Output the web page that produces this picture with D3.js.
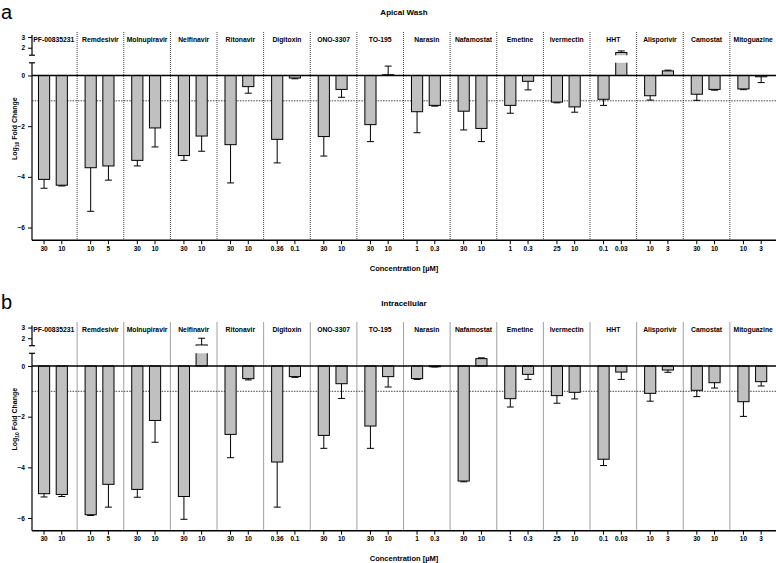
<!DOCTYPE html>
<html>
<head>
<meta charset="utf-8">
<script src="https://cdn.jsdelivr.net/npm/d3@7"></script>
<style>
body { margin: 0; background: #fff; }
text { font-family: "Liberation Sans", Arial, sans-serif; }
</style>
</head>
<body>
<svg id="chart" width="776" height="563"></svg>
<script>
// drug groups and the two concentrations (uM) tested for each
const drugs = ["PF-00835231", "Remdesivir", "Molnupiravir", "Nelfinavir", "Ritonavir", "Digitoxin",
    "ONO-3307", "TO-195", "Narasin", "Nafamostat", "Emetine", "Ivermectin", "HHT", "Alisporivir",
    "Camostat", "Mitoguazine"];
const concHigh = ["30", "10", "30", "30", "30", "0.36", "30", "30", "1", "30", "1", "25", "0.1", "10", "30", "10"];
const concLow = ["10", "5", "10", "10", "10", "0.1", "10", "10", "0.3", "10", "0.3", "10", "0.03", "3", "10", "3"];

// log10 fold change, apical wash
const apicalHigh = [-4.10, -3.64, -3.35, -3.16, -2.73, -2.52, -2.41, -1.94, -1.43, -1.41, -1.18, -1.05, -0.94, -0.80, -0.74, -0.53];
const apicalHighSd = [0.35, 1.72, 0.22, 0.19, 1.51, 0.93, 0.77, 0.67, 0.83, 0.74, 0.31, 0.03, 0.24, 0.17, 0.24, 0.03];
const apicalLow = [-4.33, -3.57, -2.07, -2.39, -0.44, -0.10, -0.55, 0.03, -1.18, -2.09, -0.23, -1.24, 1.55, 0.18, -0.55, -0.05];
const apicalLowSd = [0.03, 0.56, 0.75, 0.60, 0.26, 0.03, 0.31, 0.34, 0.03, 0.52, 0.34, 0.21, 0.15, 0.03, 0.03, 0.23];

// log10 fold change, intracellular
const intraHigh = [-5.04, -5.87, -4.87, -5.15, -2.70, -3.79, -2.74, -2.37, -0.50, -4.54, -1.29, -1.17, -3.68, -1.08, -0.96, -1.41];
const intraHighSd = [0.13, 0.03, 0.31, 0.90, 0.92, 1.78, 0.51, 0.88, 0.03, 0.03, 0.33, 0.30, 0.25, 0.31, 0.25, 0.58];
const intraLow = [-5.07, -4.67, -2.15, 1.37, -0.50, -0.42, -0.70, -0.42, -0.03, 0.29, -0.33, -1.04, -0.24, -0.16, -0.66, -0.62];
const intraLowSd = [0.08, 0.90, 0.86, 0.63, 0.05, 0.03, 0.58, 0.41, 0.01, 0.03, 0.20, 0.26, 0.29, 0.09, 0.21, 0.17];

const lowerTicks = [0, -2, -4, -6];
const upperTicks = [2, 3];

const svg = d3.select("#chart");

const x = d3.scaleBand().domain(drugs).range([30.5, 776.5]).padding(0);
const xi = d3.scaleBand().domain([0, 1]).range([0, x.bandwidth()])
    .paddingInner(0.37).paddingOuter(0.5).align(0.45);

function drawPanel(oy, letter, title, high, highSd, low, lowSd, id) {
    const g = svg.append("g").attr("transform", "translate(0," + oy + ")");
    const axisX = 32;

    // broken y axis: lower segment and small upper segment
    const yLow = d3.scaleLinear().domain([-6.5, 0.5]).range([240.2, 62.8]);
    const yUp = d3.scaleLinear().domain([1.3, 3.2]).range([55.2, 34.9]);

    g.append("text").attr("x", 1).attr("y", 18.5).attr("font-size", 20).text(letter);
    g.append("text").attr("x", 404).attr("y", 15).attr("text-anchor", "middle")
        .attr("font-size", 8).attr("font-weight", "bold").text(title);

    // clip regions for each segment
    const defs = svg.append("defs");
    defs.append("clipPath").attr("id", "low" + id).append("rect")
        .attr("x", 0).attr("y", yLow(0.5)).attr("width", 776).attr("height", yLow(-6.5) - yLow(0.5));
    defs.append("clipPath").attr("id", "up" + id).append("rect")
        .attr("x", 0).attr("y", yUp(3.2)).attr("width", 776).attr("height", yUp(1.3) - yUp(3.2));

    // dotted group dividers
    g.selectAll(".div").data(drugs.slice(1)).enter().append("line")
        .attr("x1", d => x(d)).attr("x2", d => x(d))
        .attr("y1", 32).attr("y2", yLow(-6.5))
        .attr("stroke", "#444").attr("stroke-width", 1).attr("stroke-dasharray", "1,1");

    // group names
    g.selectAll(".name").data(drugs).enter().append("text")
        .attr("x", d => x(d) + x.bandwidth() / 2).attr("y", 41.5)
        .attr("text-anchor", "middle").attr("font-size", 6.8).attr("font-weight", "bold")
        .text(d => d);

    // reference line at -1
    g.append("line").attr("x1", axisX).attr("x2", 776).attr("y1", yLow(-1)).attr("y2", yLow(-1))
        .attr("stroke", "#333").attr("stroke-width", 0.9).attr("stroke-dasharray", "1.5,1.2");

    const bars = [];
    drugs.forEach((d, i) => {
        bars.push({ drug: d, k: 0, v: high[i], sd: highSd[i], conc: concHigh[i] });
        bars.push({ drug: d, k: 1, v: low[i], sd: lowSd[i], conc: concLow[i] });
    });
    const bx = b => x(b.drug) + xi(b.k);
    const bw = xi.bandwidth();

    // bars, lower segment
    g.append("g").attr("clip-path", "url(#low" + id + ")")
        .selectAll("rect").data(bars).enter().append("rect")
        .attr("x", bx).attr("width", bw)
        .attr("y", b => yLow(Math.max(b.v, 0)))
        .attr("height", b => Math.abs(yLow(b.v) - yLow(0)))
        .attr("fill", "#c0c0c0").attr("stroke", "#000").attr("stroke-width", 1);

    // bars, upper segment (only the ones reaching it)
    g.append("g").attr("clip-path", "url(#up" + id + ")")
        .selectAll("rect").data(bars.filter(b => b.v > 1.3)).enter().append("rect")
        .attr("x", bx).attr("width", bw)
        .attr("y", b => yUp(b.v))
        .attr("height", b => yUp(1.0) - yUp(b.v))
        .attr("fill", "#c0c0c0").attr("stroke", "#000").attr("stroke-width", 1);

    // error bars, away from zero
    const yAny = v => v > 1.3 ? yUp(v) : yLow(v);
    const eg = g.append("g").attr("stroke", "#000").attr("stroke-width", 1);
    bars.forEach(b => {
        const cx = bx(b) + bw / 2;
        const end = b.v >= 0 ? b.v + b.sd : b.v - b.sd;
        eg.append("line").attr("x1", cx).attr("x2", cx).attr("y1", yAny(b.v)).attr("y2", yAny(end));
        eg.append("line").attr("x1", cx - 3.5).attr("x2", cx + 3.5).attr("y1", yAny(end)).attr("y2", yAny(end));
    });

    // zero line
    g.append("line").attr("x1", axisX).attr("x2", 776).attr("y1", yLow(0)).attr("y2", yLow(0))
        .attr("stroke", "#000").attr("stroke-width", 1.4);

    // y axes
    const axLow = g.append("g").attr("transform", "translate(" + axisX + ",0)")
        .call(d3.axisLeft(yLow).tickValues(lowerTicks).tickSize(4).tickFormat(d3.format("d")));
    const axUp = g.append("g").attr("transform", "translate(" + axisX + ",0)")
        .call(d3.axisLeft(yUp).tickValues(upperTicks).tickSize(4).tickFormat(d3.format("d")));
    [axLow, axUp].forEach(ax => {
        ax.select(".domain").remove();
        ax.selectAll("line").attr("stroke-width", 1);
        ax.selectAll("text").attr("font-size", 6.5).attr("font-weight", "bold").attr("font-family", "Liberation Sans, Arial, sans-serif");
    });
    g.append("line").attr("x1", axisX).attr("x2", axisX).attr("y1", yLow(0.5)).attr("y2", yLow(-6.5))
        .attr("stroke", "#000").attr("stroke-width", 1.2);
    g.append("line").attr("x1", axisX).attr("x2", axisX).attr("y1", yUp(3.2)).attr("y2", yUp(1.3))
        .attr("stroke", "#000").attr("stroke-width", 1.2);
    // break caps
    [yUp(1.3), yLow(0.5)].forEach(yy => {
        g.append("line").attr("x1", axisX - 3).attr("x2", axisX + 3).attr("y1", yy).attr("y2", yy)
            .attr("stroke", "#000").attr("stroke-width", 1.2);
    });

    // y label
    const yl = g.append("text").attr("transform", "translate(17," + yLow(-2.1) + ") rotate(-90)")
        .attr("text-anchor", "middle").attr("font-size", 7).attr("font-weight", "bold");
    yl.append("tspan").text("Log");
    yl.append("tspan").attr("font-size", 5).attr("dy", 2).text("10");
    yl.append("tspan").attr("dy", -2).text(" Fold Change");

    // x axis with concentration ticks
    g.append("line").attr("x1", axisX).attr("x2", 776).attr("y1", yLow(-6.5)).attr("y2", yLow(-6.5))
        .attr("stroke", "#000").attr("stroke-width", 1.4);
    const tk = g.selectAll(".tick-x").data(bars).enter().append("g")
        .attr("transform", b => "translate(" + (bx(b) + bw / 2) + "," + yLow(-6.5) + ")");
    tk.append("line").attr("y1", 0).attr("y2", 4).attr("stroke", "#000").attr("stroke-width", 1);
    tk.append("text").attr("y", 10.5).attr("text-anchor", "middle")
        .attr("font-size", 6.5).attr("font-weight", "bold").text(b => b.conc);

    g.append("text").attr("x", 404).attr("y", 270.5).attr("text-anchor", "middle")
        .attr("font-size", 7.5).attr("font-weight", "bold").text("Concentration [µM]");
}

drawPanel(0, "a", "Apical Wash", apicalHigh, apicalHighSd, apicalLow, apicalLowSd, "a");
drawPanel(290.5, "b", "Intracellular", intraHigh, intraHighSd, intraLow, intraLowSd, "b");
</script>
</body>
</html>
